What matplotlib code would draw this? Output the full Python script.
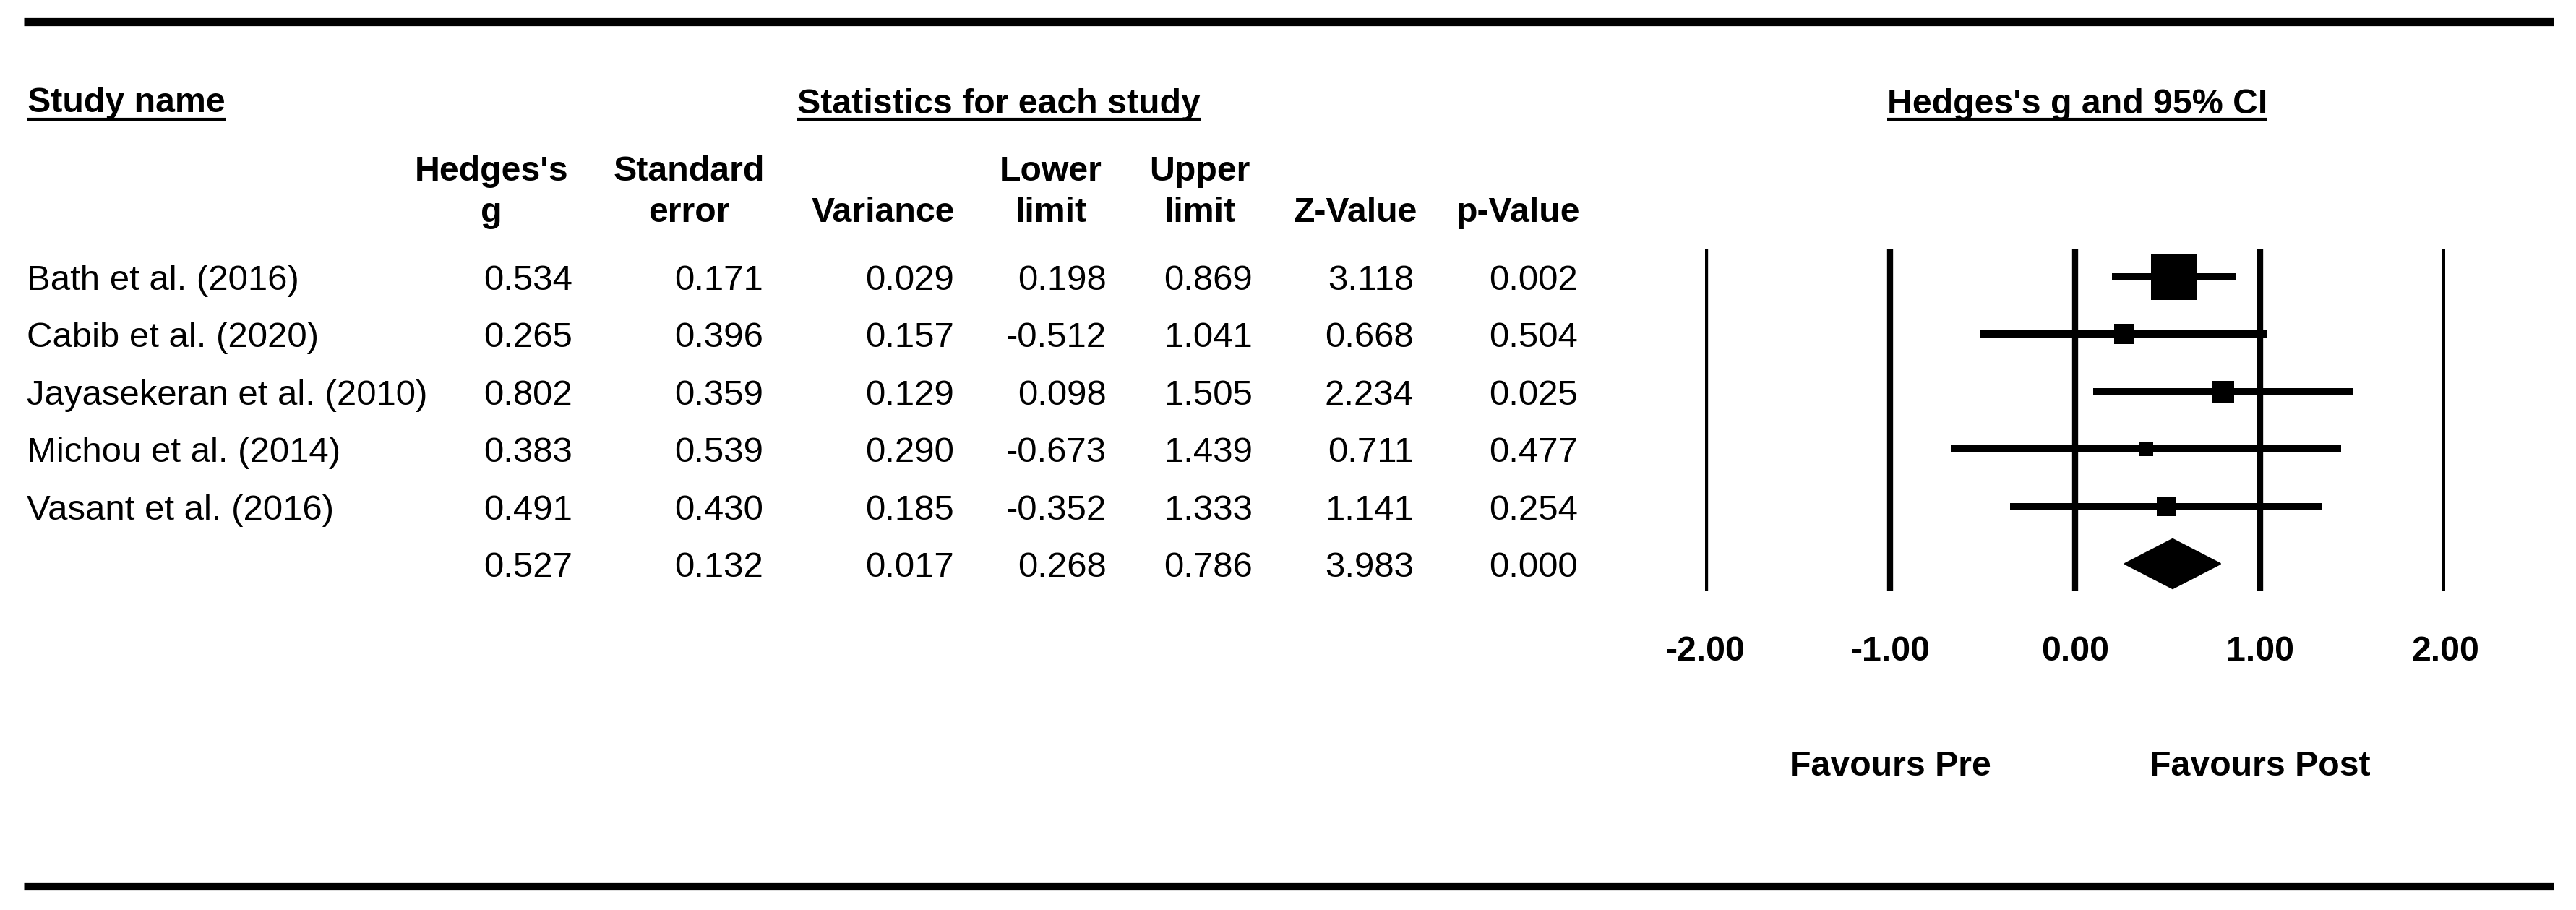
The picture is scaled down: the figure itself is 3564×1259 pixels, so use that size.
import matplotlib.pyplot as plt
from matplotlib.patches import Polygon
from matplotlib.transforms import blended_transform_factory
import numpy as np

plt.rcParams['font.family'] = ['Liberation Sans', 'DejaVu Sans']

# data
studies = ['Bath et al. (2016)', 'Cabib et al. (2020)', 'Jayasekeran et al. (2010)',
           'Michou et al. (2014)', 'Vasant et al. (2016)']
hedges_g = [0.534, 0.265, 0.802, 0.383, 0.491]
std_err = [0.171, 0.396, 0.359, 0.539, 0.430]
variance = [0.029, 0.157, 0.129, 0.290, 0.185]
lower = [0.198, -0.512, 0.098, -0.673, -0.352]
upper = [0.869, 1.041, 1.505, 1.439, 1.333]
z_value = [3.118, 0.668, 2.234, 0.711, 1.141]
p_value = [0.002, 0.504, 0.025, 0.477, 0.254]

# pooled row
pooled = [0.527, 0.132, 0.017, 0.268, 0.786, 3.983, 0.000]

headers = [["Hedges's", "g"], ["Standard", "error"], ["Variance"], ["Lower", "limit"],
           ["Upper", "limit"], ["Z-Value"], ["p-Value"]]
ticks = [-2, -1, 0, 1, 2]

# layout (pixels)
W, H = 3564, 1259
row0, step = 383, 79.4
col_right = [792, 1056, 1320, 1531, 1733, 1956, 2183]
col_head = [680, 953, 1222, 1454, 1660, 1875, 2101]
fs_reg, fs_bold = 11.8, 11.6

fig = plt.figure(figsize=(W / 300, H / 300), dpi=300)
ax = fig.add_axes([0, 0, 1, 1])
ax.set_xlim(0, W)
ax.set_ylim(H, 0)
ax.axis('off')

# thick rules top and bottom
for yy in (30, 1226):
    ax.plot([33, 3533], [yy, yy], color='black', lw=2.7, solid_capstyle='butt')

# section titles (underlined)
titles = [ax.text(38, 155, 'Study name', ha='left', fontsize=fs_bold, fontweight='bold'),
          ax.text(1382, 157, 'Statistics for each study', ha='center', fontsize=fs_bold, fontweight='bold'),
          ax.text(2874, 157, "Hedges's g and 95% CI", ha='center', fontsize=fs_bold, fontweight='bold')]

# column headers
for hx, lines in zip(col_head, headers):
    if len(lines) == 2:
        ax.text(hx, 250, lines[0], ha='center', fontsize=fs_bold, fontweight='bold')
    ax.text(hx, 307, lines[-1], ha='center', fontsize=fs_bold, fontweight='bold')

# table body
cols = [hedges_g, std_err, variance, lower, upper, z_value, p_value]
for i, name in enumerate(studies):
    yb = row0 + step * i + 18
    ax.text(37, yb, name, ha='left', fontsize=fs_reg)
    for cx, col in zip(col_right, cols):
        ax.text(cx, yb, f'{col[i]:.3f}', ha='right', fontsize=fs_reg)
yb = row0 + step * len(studies) + 18
for cx, v in zip(col_right, pooled):
    ax.text(cx, yb, f'{v:.3f}', ha='right', fontsize=fs_reg)

# forest panel
top_px, bot_px = 345, 818
axf = fig.add_axes([2359 / W, 1 - bot_px / H, 1024 / W, (bot_px - top_px) / H])
axf.set_xlim(-2, 2)
axf.set_ylim((bot_px - row0) / step, (top_px - row0) / step)
axf.axis('off')
for t in ticks:
    axf.axvline(t, color='black', lw=2.0)

rows = np.arange(len(studies))
axf.hlines(rows, lower, upper, color='black', lw=2.4, capstyle='butt')
weights = 1 / np.array(variance)
for r, gg, w in zip(rows, hedges_g, weights):
    axf.plot(gg, r, marker='s', color='black', markersize=2.65 * np.sqrt(w), markeredgewidth=0)

ps = len(studies)
axf.add_patch(Polygon([(pooled[3], ps), (pooled[0], ps - 0.43), (pooled[4], ps), (pooled[0], ps + 0.43)],
                      closed=True, facecolor='black', edgecolor='black', lw=0.5))

tr = blended_transform_factory(axf.transData, ax.transData)
for t in ticks:
    ax.text(t, 914, f'{t:.2f}', transform=tr, ha='center', fontsize=fs_bold, fontweight='bold')
ax.text(-1, 1073, 'Favours Pre', transform=tr, ha='center', fontsize=fs_bold, fontweight='bold')
ax.text(1, 1073, 'Favours Post', transform=tr, ha='center', fontsize=fs_bold, fontweight='bold')

# underline the section titles
fig.canvas.draw()
inv = ax.transData.inverted()
for t in titles:
    bb = t.get_window_extent()
    (x0, _), (x1, _) = inv.transform([(bb.x0, bb.y0), (bb.x1, bb.y1)])
    ax.plot([x0, x1], [165, 165], color='black', lw=1.0, solid_capstyle='butt')

fig.savefig('out.png', dpi=300)
